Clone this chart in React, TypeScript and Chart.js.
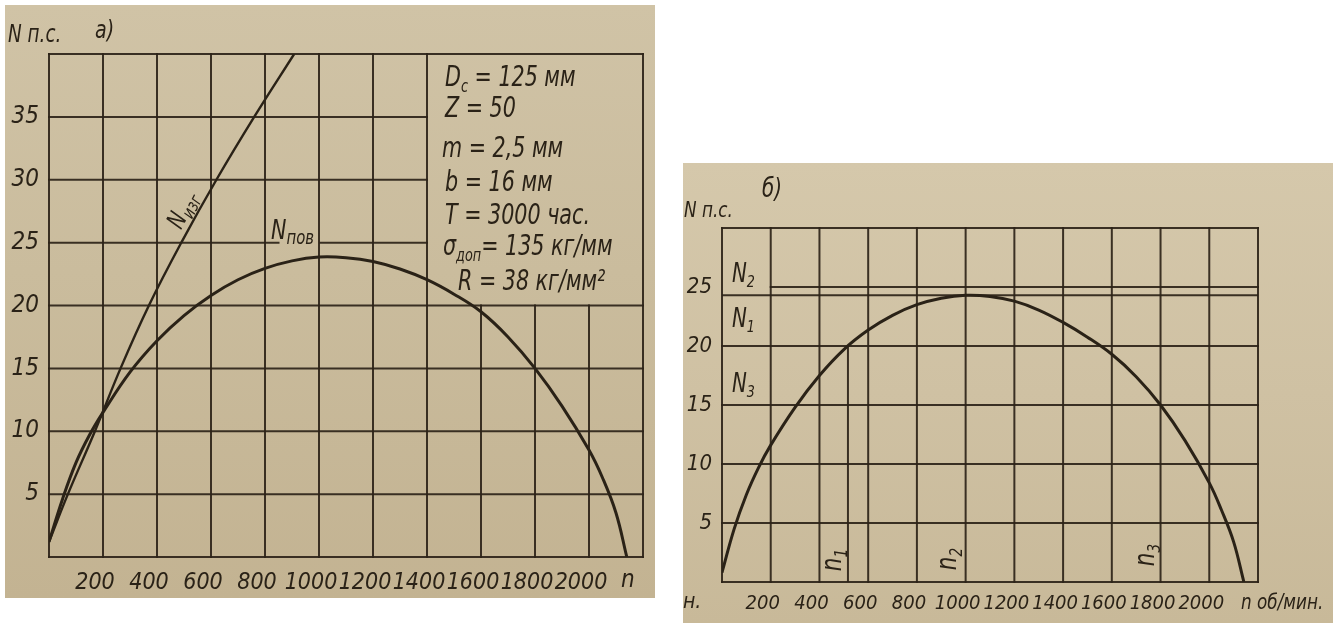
import React, { useEffect, useRef } from "react";
import { Chart, registerables } from "chart.js";

Chart.register(...registerables);

const FONT = "'DejaVu Sans Condensed', 'DejaVu Sans', sans-serif";
const INK = "#2a2217";
const GRID = "rgba(44,35,24,0.92)";

// ---------- chart а) ----------
const rpmTicksA = [0, 200, 400, 600, 800, 1000, 1200, 1400, 1600, 1800, 2000, 2200];
const rpmLabelsA = ["", "200", "400", "600", "800", "1000", "1200", "1400", "1600", "1800", "2000", ""];
const powerTicksA = [0, 5, 10, 15, 20, 25, 30, 35, 40];
const powerLabelsA = ["", "5", "10", "15", "20", "25", "30", "35", ""];

// N изг (bending-strength limited power)
const izgRpm = [0, 70, 170, 265, 370, 490, 620, 760, 908];
const izgPower = [1.2, 5, 10, 15, 20, 25, 30, 35, 40];

// N пов (surface-strength limited power)
const povRpmA = [0, 50, 100, 150, 200, 300, 400, 500, 600, 700, 800, 900, 1000, 1100, 1200, 1300, 1400, 1500, 1600, 1700, 1800, 1900, 2000, 2050, 2100, 2140];
const povPowerA = [1.2, 4.6, 7.5, 9.7, 11.5, 14.7, 17.2, 19.2, 20.8, 22.05, 22.95, 23.55, 23.85, 23.8, 23.5, 22.9, 22.05, 20.9, 19.5, 17.5, 15.0, 12.0, 8.5, 6.3, 3.5, 0];

// grid region left blank for the parameter table (n > 1400, N > 20)
const blankFromRpmA = 1400;
const blankFromPowerA = 20;
// gap in the 25 line under the "Nпов" label
const gap25A = [850, 1005];

const paramLines = [
  [{ t: "D" }, { t: "с", sub: true }, { t: " = 125 мм" }],
  [{ t: "Z = 50" }],
  [{ t: "m = 2,5 мм" }],
  [{ t: "b = 16 мм" }],
  [{ t: "T = 3000 час." }],
  [{ t: "σ" }, { t: "доп", sub: true }, { t: "= 135 кг/мм" }],
  [{ t: "R = 38 кг/мм²" }],
];

// ---------- chart б) ----------
const rpmTicksB = [0, 200, 400, 600, 800, 1000, 1200, 1400, 1600, 1800, 2000, 2200];
const rpmLabelsB = ["", "200", "400", "600", "800", "1000", "1200", "1400", "1600", "1800", "2000", ""];
const powerTicksB = [0, 5, 10, 15, 20, 25, 30];
const powerLabelsB = ["", "5", "10", "15", "20", "25", ""];

const povRpmB = [0, 50, 100, 150, 200, 300, 400, 500, 600, 700, 800, 900, 1000, 1100, 1200, 1300, 1400, 1500, 1600, 1700, 1800, 1900, 2000, 2050, 2100, 2142];
const povPowerB = [0.8, 4.5, 7.4, 9.7, 11.6, 14.8, 17.5, 19.7, 21.35, 22.6, 23.5, 24.05, 24.3, 24.2, 23.8, 23.05, 22.0, 20.75, 19.3, 17.4, 15.0, 12.0, 8.4, 6.1, 3.4, 0];

const nMaxPower = 24.3; // level of the maximum (thick line)
const n2LineFrom = 200; // N2 line begins after its label
const n1Rpm = 517;
const n1Power = 20;

type Part = { t: string; sub?: boolean };

function drawRich(ctx: CanvasRenderingContext2D, x: number, y: number, parts: Part[], size: number, subScale = 0.64, sx = 0.85) {
  ctx.save();
  ctx.translate(x, y);
  ctx.scale(sx, 1);
  let cx = 0;
  for (const p of parts) {
    const fs = p.sub ? size * subScale : size;
    ctx.font = `italic ${fs}px ${FONT}`;
    ctx.fillText(p.t, cx, p.sub ? size * 0.2 : 0);
    cx += ctx.measureText(p.t).width;
  }
  ctx.restore();
  return cx * sx;
}

function measureRich(ctx: CanvasRenderingContext2D, parts: Part[], size: number, subScale = 0.64, sx = 0.85) {
  let w = 0;
  ctx.save();
  for (const p of parts) {
    const fs = p.sub ? size * subScale : size;
    ctx.font = `italic ${fs}px ${FONT}`;
    w += ctx.measureText(p.t).width;
  }
  ctx.restore();
  return w * sx;
}

function drawRotated(ctx: CanvasRenderingContext2D, cx: number, cy: number, angle: number, parts: Part[], size: number, subScale = 0.64, sx = 0.85) {
  const w = measureRich(ctx, parts, size, subScale, sx);
  ctx.save();
  ctx.translate(cx, cy);
  ctx.rotate(angle);
  drawRich(ctx, -w / 2, size * 0.3, parts, size, subScale, sx);
  ctx.restore();
}

type Seg = { v: number; from: number; to: number };

function makeGridPlugin(hz: Seg[], vt: Seg[]) {
  return {
    id: "paperGrid",
    beforeDatasetsDraw(chart: any) {
      const { ctx } = chart;
      const x = chart.scales.x;
      const y = chart.scales.y;
      ctx.save();
      ctx.strokeStyle = GRID;
      ctx.lineWidth = 2;
      ctx.lineCap = "square";
      for (const h of hz) {
        const py = y.getPixelForValue(h.v);
        ctx.beginPath();
        ctx.moveTo(x.getPixelForValue(h.from), py);
        ctx.lineTo(x.getPixelForValue(h.to), py);
        ctx.stroke();
      }
      for (const v of vt) {
        const px = x.getPixelForValue(v.v);
        ctx.beginPath();
        ctx.moveTo(px, y.getPixelForValue(v.from));
        ctx.lineTo(px, y.getPixelForValue(v.to));
        ctx.stroke();
      }
      ctx.restore();
    },
  };
}

function axisOptions(ticks: number[], labels: string[], min: number, max: number, size: number, padding: number, fit: (s: any) => void, labelOffset = 0) {
  return {
    type: "linear" as const,
    min,
    max,
    grid: { display: false, drawTicks: false },
    border: { display: false },
    afterBuildTicks: (s: any) => {
      s.ticks = ticks.map((v) => ({ value: v }));
    },
    afterFit: fit,
    ticks: {
      autoSkip: false,
      maxRotation: 0,
      minRotation: 0,
      padding,
      labelOffset,
      color: INK,
      font: { family: FONT, size, style: "italic" as const },
      callback: (v: any) => {
        const i = ticks.indexOf(Number(v));
        return i >= 0 ? labels[i] : "";
      },
    },
  };
}

function pts(xs: number[], ys: number[]) {
  return xs.map((x, i) => ({ x, y: ys[i] }));
}

export default function App() {
  const refA = useRef<HTMLCanvasElement>(null);
  const refB = useRef<HTMLCanvasElement>(null);

  useEffect(() => {
    // ---------- grid A ----------
    const hzA: Seg[] = [];
    for (const v of powerTicksA) {
      if (v > blankFromPowerA && v < powerTicksA[powerTicksA.length - 1]) {
        if (v === 25) {
          hzA.push({ v, from: 0, to: gap25A[0] });
          hzA.push({ v, from: gap25A[1], to: blankFromRpmA });
        } else hzA.push({ v, from: 0, to: blankFromRpmA });
      } else hzA.push({ v, from: 0, to: 2200 });
    }
    const vtA: Seg[] = rpmTicksA.map((v) =>
      v > blankFromRpmA && v < 2200 ? { v, from: 0, to: blankFromPowerA } : { v, from: 0, to: 40 }
    );

    const textA = {
      id: "textA",
      afterDraw(chart: any) {
        const ctx: CanvasRenderingContext2D = chart.ctx;
        const x = chart.scales.x;
        ctx.save();
        ctx.fillStyle = INK;
        ctx.textAlign = "left";
        ctx.textBaseline = "alphabetic";
        drawRich(ctx, 3, 37, [{ t: "N п.с." }], 24);
        drawRich(ctx, 90, 33, [{ t: "а)" }], 25);
        const baselines = [81, 112, 152, 186, 219, 250, 285];
        const lefts = [440, 440, 437, 440, 440, 438, 453];
        paramLines.forEach((parts, i) => drawRich(ctx, lefts[i], baselines[i], parts, 28, 0.62, 0.82));
        drawRotated(ctx, 178, 205, -1.1, [{ t: "N" }, { t: "изг", sub: true }], 25, 0.72);
        drawRich(ctx, 266, 234, [{ t: "N" }, { t: "пов", sub: true }], 27, 0.72);
        ctx.textBaseline = "top";
        ctx.font = `italic 24px ${FONT}`;
        ctx.fillText("n", x.getPixelForValue(2200) - 22, chart.chartArea.bottom + 12);
        ctx.restore();
      },
    };

    const chartA = new Chart(refA.current!, {
      type: "line",
      data: {
        datasets: [
          {
            label: "Nизг",
            data: pts(izgRpm, izgPower),
            borderColor: INK,
            borderWidth: 2.4,
            pointRadius: 0,
            tension: 0.4,
          },
          {
            label: "Nпов",
            data: pts(povRpmA, povPowerA),
            borderColor: INK,
            borderWidth: 3,
            pointRadius: 0,
            tension: 0.4,
          },
        ],
      },
      options: {
        responsive: false,
        animation: false,
        events: [],
        layout: { padding: { left: 0, top: 49, right: 4, bottom: 0 } },
        plugins: { legend: { display: false }, tooltip: { enabled: false } },
        scales: {
          x: axisOptions(rpmTicksA, rpmLabelsA, 0, 2200, 23, 12, (s) => { s.height = 41; }, -8),
          y: axisOptions(powerTicksA, powerLabelsA, 0, 40, 24, 10, (s) => { s.width = 44; }),
        },
      },
      plugins: [makeGridPlugin(hzA, vtA), textA],
    } as any);

    // ---------- grid B ----------
    const hzB: Seg[] = powerTicksB.map((v) => (v === 25 ? { v, from: n2LineFrom, to: 2200 } : { v, from: 0, to: 2200 }));
    const vtB: Seg[] = rpmTicksB.map((v) => ({ v, from: 0, to: 30 }));

    const textB = {
      id: "textB",
      afterDraw(chart: any) {
        const ctx: CanvasRenderingContext2D = chart.ctx;
        const area = chart.chartArea;
        ctx.save();
        ctx.fillStyle = INK;
        ctx.textAlign = "left";
        ctx.textBaseline = "alphabetic";
        drawRich(ctx, 1, 54, [{ t: "N п.с." }], 22);
        drawRich(ctx, 79, 34, [{ t: "б)" }], 26);
        drawRich(ctx, 49, 119, [{ t: "N" }, { t: "2", sub: true }], 26);
        drawRich(ctx, 49, 164, [{ t: "N" }, { t: "1", sub: true }], 26);
        drawRich(ctx, 49, 229, [{ t: "N" }, { t: "3", sub: true }], 26);
        drawRotated(ctx, 150, 397, -Math.PI / 2, [{ t: "n" }, { t: "1", sub: true }], 28);
        drawRotated(ctx, 265, 396, -Math.PI / 2, [{ t: "n" }, { t: "2", sub: true }], 28);
        drawRotated(ctx, 463, 392, -Math.PI / 2, [{ t: "n" }, { t: "3", sub: true }], 28);
        ctx.textBaseline = "top";
        ctx.font = `italic 21px ${FONT}`;
        ctx.fillText("н.", 0, area.bottom + 10);
        drawRich(ctx, 558, area.bottom + 10, [{ t: "n об/мин." }], 22, 0.64, 0.85);
        ctx.restore();
      },
    };

    const chartB = new Chart(refB.current!, {
      type: "line",
      data: {
        datasets: [
          {
            label: "N",
            data: pts(povRpmB, povPowerB),
            borderColor: INK,
            borderWidth: 3,
            pointRadius: 0,
            tension: 0.4,
          },
          {
            label: "Nmax",
            data: [
              { x: 0, y: nMaxPower },
              { x: 2200, y: nMaxPower },
            ],
            borderColor: GRID,
            borderWidth: 2.2,
            pointRadius: 0,
          },
          {
            label: "n1",
            data: [
              { x: n1Rpm, y: 0 },
              { x: n1Rpm, y: n1Power },
            ],
            borderColor: GRID,
            borderWidth: 2,
            pointRadius: 0,
          },
        ],
      },
      options: {
        responsive: false,
        animation: false,
        events: [],
        layout: { padding: { left: 0, top: 65, right: 75, bottom: 0 } },
        plugins: { legend: { display: false }, tooltip: { enabled: false } },
        scales: {
          x: axisOptions(rpmTicksB, rpmLabelsB, 0, 2200, 20, 10, (s) => { s.height = 41; }, -8),
          y: axisOptions(powerTicksB, powerLabelsB, 0, 30, 22, 10, (s) => { s.width = 39; }),
        },
      },
      plugins: [makeGridPlugin(hzB, vtB), textB],
    } as any);

    return () => {
      chartA.destroy();
      chartB.destroy();
    };
  }, []);

  return (
    <div style={{ position: "fixed", left: 0, top: 0, width: 1337, height: 623, background: "#ffffff", overflow: "hidden" }}>
      <div
        style={{
          position: "absolute",
          left: 5,
          top: 5,
          width: 650,
          height: 593,
          background: "linear-gradient(to bottom, #d0c3a6 0%, #cabc9d 45%, #c3b392 100%)",
        }}
      >
        <canvas ref={refA} width={650} height={593} style={{ width: 650, height: 593, display: "block" }} />
      </div>
      <div
        style={{
          position: "absolute",
          left: 683,
          top: 163,
          width: 650,
          height: 460,
          background: "linear-gradient(to bottom, #d5c8ab 0%, #cfc1a3 50%, #c8b999 100%)",
        }}
      >
        <canvas ref={refB} width={650} height={460} style={{ width: 650, height: 460, display: "block" }} />
      </div>
    </div>
  );
}
